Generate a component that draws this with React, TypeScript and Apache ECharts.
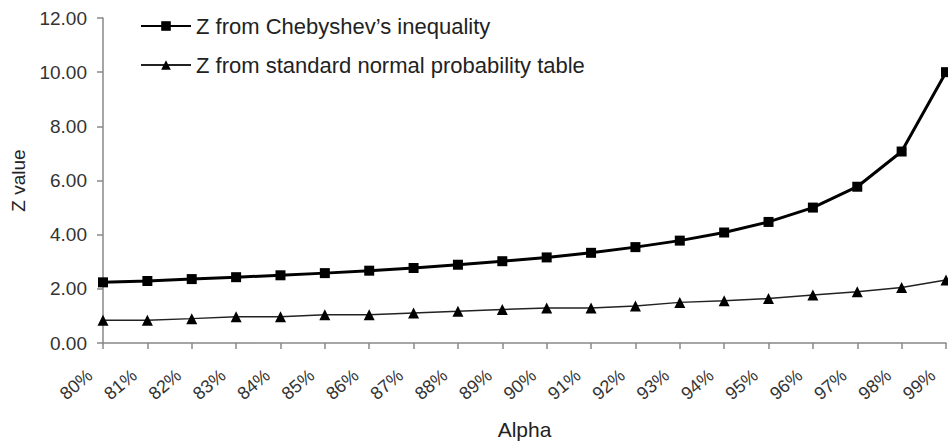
import React, { useEffect, useRef } from "react";
import * as echarts from "echarts";

const categories = ["80%", "81%", "82%", "83%", "84%", "85%", "86%", "87%", "88%", "89%", "90%", "91%", "92%", "93%", "94%", "95%", "96%", "97%", "98%", "99%"];
const chebyshev = [2.24, 2.29, 2.36, 2.43, 2.5, 2.58, 2.67, 2.77, 2.89, 3.02, 3.16, 3.33, 3.54, 3.78, 4.08, 4.47, 5.0, 5.77, 7.07, 10.0];
const normal = [0.84, 0.84, 0.9, 0.97, 0.97, 1.04, 1.04, 1.11, 1.17, 1.24, 1.29, 1.29, 1.37, 1.5, 1.56, 1.64, 1.77, 1.89, 2.05, 2.33];
const seriesNames = ["Z from Chebyshev\u2019s inequality", "Z from standard normal probability table"];

const FONT = "'Liberation Sans', Arial, sans-serif";

export default function App() {
  const ref = useRef<HTMLDivElement>(null);
  useEffect(() => {
    document.body.style.margin = "0";
    const chart = echarts.init(ref.current!, undefined, { renderer: "svg" });
    chart.setOption({
      animation: false,
      backgroundColor: "#ffffff",
      textStyle: { fontFamily: FONT },
      grid: { left: 103, right: 2, top: 18, bottom: 99, containLabel: false, outerBoundsMode: "none" },
      legend: {
        orient: "vertical",
        left: 135,
        top: 10,
        itemWidth: 50,
        itemHeight: 12,
        itemGap: 17,
        textStyle: { fontSize: 22, color: "#222", fontFamily: FONT },
        data: seriesNames,
      },
      xAxis: {
        type: "category",
        data: categories,
        boundaryGap: false,
        name: "Alpha",
        nameLocation: "middle",
        nameGap: 76,
        nameMoveOverlap: false,
        nameTextStyle: { fontSize: 21, color: "#222", fontFamily: FONT },
        axisLine: { lineStyle: { color: "#888", width: 1.5 } },
        axisTick: { show: true, length: 6, lineStyle: { color: "#888", width: 1.5 } },
        axisLabel: {
          rotate: 40,
          margin: 19,
          fontSize: 18,
          color: "#333",
          fontFamily: FONT,
          interval: 0,
          hideOverlap: false,
          backgroundColor: "rgba(255,255,255,0)",
          padding: [0, 17, 0, 0],
        },
        splitLine: { show: false },
      },
      yAxis: {
        type: "value",
        min: 0,
        max: 12,
        interval: 2,
        name: "Z value",
        nameLocation: "middle",
        nameGap: 75,
        nameRotate: 90,
        nameMoveOverlap: false,
        nameTextStyle: { fontSize: 19, color: "#222", fontFamily: FONT },
        axisLine: { show: true, lineStyle: { color: "#888", width: 1.5 } },
        axisTick: { show: true, length: 6, lineStyle: { color: "#888", width: 1.5 } },
        axisLabel: {
          margin: 16,
          fontSize: 19,
          color: "#333",
          fontFamily: FONT,
          formatter: (v: number) => v.toFixed(2),
        },
        splitLine: { show: false },
      },
      series: [
        {
          name: seriesNames[0],
          type: "line",
          data: chebyshev,
          symbol: "rect",
          symbolSize: 10,
          showAllSymbol: true,
          lineStyle: { color: "#000", width: 3 },
          itemStyle: { color: "#000" },
        },
        {
          name: seriesNames[1],
          type: "line",
          data: normal,
          symbol: "triangle",
          symbolSize: 11,
          showAllSymbol: true,
          lineStyle: { color: "#222", width: 1.5 },
          itemStyle: { color: "#000" },
        },
      ],
    });
    return () => chart.dispose();
  }, []);
  return <div ref={ref} style={{ width: 948, height: 442 }} />;
}
